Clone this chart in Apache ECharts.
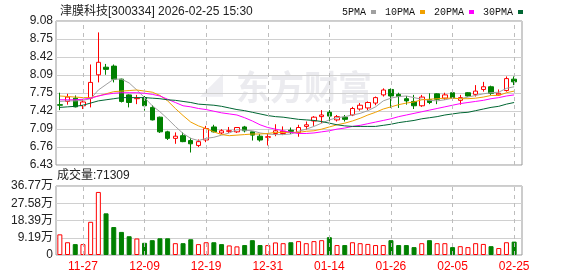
<!DOCTYPE html>
<html>
<head>
    <meta charset="utf-8">
    <title>津膜科技 K线</title>
    <script src="https://cdn.jsdelivr.net/npm/echarts@6/dist/echarts.min.js"></script>
    <style>
        html, body { margin: 0; padding: 0; background: #fff; }
        #main { width: 578px; height: 276px; }
    </style>
</head>
<body>
    <div id="main"></div>
    <script type="text/javascript">
        // 日期
        var dates = [
            '11-24', '11-25', '11-26', '11-27', '11-28', '12-01', '12-02', '12-03', '12-04', '12-05',
            '12-08', '12-09', '12-10', '12-11', '12-12', '12-15', '12-16', '12-17', '12-18', '12-19',
            '12-22', '12-23', '12-24', '12-25', '12-26', '12-29', '12-30', '12-31', '01-05', '01-06',
            '01-07', '01-08', '01-09', '01-12', '01-13', '01-14', '01-15', '01-16', '01-19', '01-20',
            '01-21', '01-22', '01-23', '01-26', '01-27', '01-28', '01-29', '01-30', '02-02', '02-03',
            '02-04', '02-05', '02-06', '02-09', '02-10', '02-11', '02-12', '02-13', '02-24', '02-25'
        ];
        var opens = [
            7.54, 7.60, 7.66, 7.52, 7.66, 8.09, 8.23, 8.25, 8.01, 7.72,
            7.65, 7.67, 7.49, 7.31, 7.04, 6.92, 6.97, 6.88, 6.79, 6.89,
            7.13, 7.02, 7.05, 7.04, 7.13, 7.04, 6.96, 6.94, 7.01, 7.01,
            7.07, 7.03, 7.14, 7.24, 7.32, 7.40, 7.26, 7.31, 7.35, 7.46,
            7.48, 7.57, 7.72, 7.82, 7.73, 7.65, 7.60, 7.52, 7.63, 7.74,
            7.66, 7.76, 7.62, 7.76, 7.73, 7.82, 7.87, 7.72, 7.80, 8.01
        ];
        var closes = [
            7.53, 7.68, 7.50, 7.59, 7.95, 8.32, 8.19, 8.01, 7.60, 7.58,
            7.66, 7.52, 7.26, 7.04, 6.92, 6.96, 6.86, 6.82, 6.86, 7.10,
            7.04, 7.06, 7.06, 7.12, 7.06, 6.98, 6.89, 6.95, 7.06, 7.05,
            7.05, 7.12, 7.17, 7.31, 7.35, 7.33, 7.32, 7.27, 7.47, 7.53,
            7.58, 7.67, 7.81, 7.70, 7.69, 7.61, 7.52, 7.68, 7.58, 7.64,
            7.72, 7.66, 7.67, 7.70, 7.79, 7.87, 7.75, 7.75, 8.02, 7.96
        ];
        var lows = [
            7.44, 7.54, 7.49, 7.46, 7.49, 7.95, 8.09, 7.95, 7.58, 7.49,
            7.55, 7.43, 7.25, 7.02, 6.89, 6.82, 6.85, 6.66, 6.76, 6.85,
            7.03, 7.00, 7.02, 7.02, 7.03, 6.88, 6.86, 6.79, 6.96, 6.98,
            7.00, 6.95, 7.08, 7.15, 7.20, 7.20, 7.23, 7.23, 7.33, 7.43,
            7.44, 7.53, 7.69, 7.48, 7.48, 7.54, 7.46, 7.50, 7.55, 7.55,
            7.63, 7.64, 7.54, 7.69, 7.69, 7.78, 7.72, 7.70, 7.78, 7.90
        ];
        var highs = [
            7.76, 7.74, 7.71, 7.64, 8.28, 8.87, 8.29, 8.28, 8.02, 7.73,
            7.72, 7.70, 7.53, 7.32, 7.06, 7.03, 7.03, 6.93, 6.90, 7.15,
            7.17, 7.09, 7.13, 7.12, 7.15, 7.04, 7.00, 7.01, 7.18, 7.14,
            7.12, 7.17, 7.23, 7.33, 7.44, 7.44, 7.35, 7.35, 7.50, 7.57,
            7.60, 7.69, 7.84, 7.84, 7.76, 7.70, 7.72, 7.72, 7.75, 7.75,
            7.76, 7.78, 7.72, 7.77, 7.90, 7.96, 7.89, 7.82, 8.06, 8.06
        ];
        // 均线
        var ma5 = [
            7.60, 7.61, 7.61, 7.62, 7.65, 7.81, 7.91, 8.01, 8.01, 7.94,
            7.81, 7.67, 7.52, 7.41, 7.28, 7.14, 7.01, 6.92, 6.88, 6.92,
            6.94, 6.98, 7.02, 7.08, 7.07, 7.06, 7.02, 7.00, 6.99, 6.99,
            7.00, 7.05, 7.09, 7.14, 7.20, 7.26, 7.30, 7.32, 7.35, 7.38,
            7.43, 7.50, 7.61, 7.66, 7.69, 7.70, 7.67, 7.64, 7.62, 7.61,
            7.63, 7.66, 7.65, 7.68, 7.71, 7.74, 7.76, 7.77, 7.84, 7.87
        ];
        var ma10 = [
            7.70, 7.69, 7.68, 7.67, 7.67, 7.70, 7.74, 7.78, 7.79, 7.80,
            7.81, 7.79, 7.77, 7.71, 7.61, 7.47, 7.34, 7.22, 7.15, 7.10,
            7.04, 6.99, 6.97, 6.98, 6.99, 7.00, 7.00, 7.01, 7.03, 7.03,
            7.03, 7.03, 7.05, 7.06, 7.09, 7.13, 7.17, 7.20, 7.24, 7.29,
            7.35, 7.40, 7.46, 7.50, 7.54, 7.57, 7.59, 7.63, 7.64, 7.65,
            7.66, 7.66, 7.65, 7.65, 7.66, 7.68, 7.71, 7.71, 7.76, 7.79
        ];
        var ma20 = [
            7.63, 7.63, 7.63, 7.64, 7.66, 7.70, 7.73, 7.75, 7.76, 7.76,
            7.76, 7.75, 7.73, 7.70, 7.64, 7.58, 7.52, 7.50, 7.47, 7.45,
            7.42, 7.39, 7.37, 7.35, 7.30, 7.24, 7.17, 7.12, 7.09, 7.06,
            7.03, 7.01, 7.01, 7.02, 7.04, 7.06, 7.09, 7.11, 7.14, 7.16,
            7.19, 7.22, 7.25, 7.28, 7.32, 7.35, 7.38, 7.41, 7.44, 7.47,
            7.50, 7.53, 7.56, 7.58, 7.60, 7.62, 7.65, 7.67, 7.70, 7.72
        ];
        var ma30 = [
            7.49, 7.50, 7.51, 7.53, 7.57, 7.61, 7.63, 7.65, 7.67, 7.67,
            7.67, 7.67, 7.66, 7.65, 7.63, 7.62, 7.60, 7.58, 7.55, 7.54,
            7.53, 7.51, 7.48, 7.45, 7.43, 7.40, 7.37, 7.34, 7.32, 7.31,
            7.29, 7.27, 7.26, 7.25, 7.23, 7.20, 7.17, 7.15, 7.14, 7.14,
            7.14, 7.14, 7.16, 7.18, 7.21, 7.23, 7.25, 7.28, 7.30, 7.32,
            7.35, 7.37, 7.39, 7.40, 7.43, 7.46, 7.49, 7.51, 7.55, 7.58
        ];
        // 成交量（手）和涨跌
        var volumes = [
            110000, 68000, 58000, 58000, 177000, 336000, 222000, 149000, 123000, 100000,
            88000, 65000, 79000, 89000, 89000, 63000, 63000, 84000, 58000, 68000,
            68000, 58000, 51000, 46000, 53000, 79000, 53000, 53000, 67000, 63000,
            68000, 74000, 63000, 74000, 79000, 95000, 53000, 53000, 68000, 63000,
            59000, 53000, 53000, 79000, 53000, 53000, 42000, 63000, 79000, 63000,
            63000, 42000, 47000, 42000, 63000, 59000, 47000, 37000, 68000, 71309
        ];
        var volUp = 'RRGRRRGGGGRGGGGRGGRRGGRRGGGRRRGRRRRGRGRRRRRGGGGRGRRGRRRRGRRG';
        var priceTicks = ['6.43', '6.76', '7.09', '7.42', '7.75', '8.09', '8.42', '8.75', '9.08'];
        var volTicks = ['0', '9.19万', '18.39万', '27.58万', '36.77万'];

        var UP = '#ff0000';
        var DOWN = '#008000';
        var priceMin = 6.43, priceMax = 9.08, priceStep = (9.08 - 6.43) / 8;
        var volMax = 367700, volStep = volMax / 4;

        var kData = dates.map(function (d, i) {
            return [opens[i], closes[i], lows[i], highs[i]];
        });
        var volData = volumes.map(function (v, i) {
            var up = volUp.charAt(i) === 'R';
            return {
                value: v,
                itemStyle: up ? { color: '#fff', borderColor: UP, borderWidth: 1 }
                              : { color: DOWN, borderColor: DOWN, borderWidth: 1 }
            };
        });

        function labelTick(i) { return (i - 3) % 8 === 0; }

        // 竖向虚线：与日期标签对齐
        function dashLines() {
            return {
                silent: true,
                symbol: ['none', 'none'],
                label: { show: false },
                emphasis: { disabled: true },
                lineStyle: { color: '#bdbdbd', type: [4, 4], width: 1, opacity: 1 },
                data: dates.filter(function (d, i) { return labelTick(i); })
                           .map(function (d) { return { xAxis: d }; })
            };
        }

        var dom = document.getElementById('main');
        var myChart = echarts.init(dom, null, { renderer: 'canvas' });

        var font = '"Liberation Sans", Arial, "Noto Sans CJK SC", sans-serif';

        var option = {
            animation: false,
            backgroundColor: '#fff',
            textStyle: { fontFamily: font },
            title: {
                text: '津膜科技[300334] 2026-02-25 15:30',
                left: 55,
                top: 1,
                textStyle: { fontSize: 12, fontWeight: 'normal', color: '#222', fontFamily: font }
            },
            legend: {
                left: 337,
                top: 2,
                icon: 'rect',
                itemWidth: 5,
                itemHeight: 4,
                itemGap: 9,
                align: 'right',
                textStyle: { fontSize: 10, color: '#111', fontFamily: '"Liberation Mono", monospace' },
                data: ['5PMA', '10PMA', '20PMA', '30PMA']
            },
            graphic: [{
                type: 'text',
                left: 236,
                top: 70,
                z: -1,
                silent: true,
                style: {
                    text: '东方财富',
                    font: 'bold 34px "Noto Sans CJK SC"',
                    fill: '#ebebef'
                }
            }, {
                type: 'text',
                left: 200,
                top: 70,
                z: -1,
                silent: true,
                style: {
                    text: '◢',
                    font: 'bold 30px "DejaVu Sans"',
                    fill: '#eeeef2'
                }
            }, {
                type: 'text',
                left: 57,
                top: 170,
                style: {
                    text: '成交量:' + volumes[volumes.length - 1],
                    font: '12px "Liberation Sans", "Noto Sans CJK SC", sans-serif',
                    fill: '#222'
                }
            }],
            grid: [
                { left: 56, top: 21, width: 462, height: 144 },
                { left: 56, top: 21, width: 466, height: 144, show: true, borderColor: '#999', borderWidth: 1, backgroundColor: 'transparent' },
                { left: 56, top: 186, width: 462, height: 69 },
                { left: 56, top: 186, width: 466, height: 69, show: true, borderColor: '#999', borderWidth: 1, backgroundColor: 'transparent' }
            ],
            xAxis: [
                {
                    type: 'category', gridIndex: 0, data: dates, boundaryGap: true,
                    axisLine: { show: false }, axisTick: { show: false }, axisLabel: { show: false },
                    splitLine: { show: false }
                },
                { type: 'value', gridIndex: 1, show: false, min: 0, max: 1 },
                {
                    type: 'category', gridIndex: 2, data: dates, boundaryGap: true,
                    axisLine: { show: false }, axisTick: { show: false },
                    axisLabel: {
                        show: true, interval: labelTick, color: UP, fontSize: 12, margin: 6,
                        fontFamily: font
                    },
                    splitLine: { show: false }
                },
                { type: 'value', gridIndex: 3, show: false, min: 0, max: 1 }
            ],
            yAxis: [
                { type: 'value', gridIndex: 0, min: priceMin, max: priceMax, show: false, splitLine: { show: false } },
                {
                    type: 'value', gridIndex: 1, min: priceMin, max: priceMax, interval: priceStep,
                    axisLine: { show: false }, axisTick: { show: false },
                    axisLabel: {
                        color: '#222', fontSize: 12, margin: 3, fontFamily: font,
                        formatter: function (v) { return priceTicks[Math.round((v - priceMin) / priceStep)]; }
                    },
                    splitLine: { lineStyle: { color: '#d0d0d0', width: 1 } }
                },
                { type: 'value', gridIndex: 2, min: 0, max: volMax, show: false, splitLine: { show: false } },
                {
                    type: 'value', gridIndex: 3, min: 0, max: volMax, interval: volStep,
                    axisLine: { show: false }, axisTick: { show: false },
                    axisLabel: {
                        color: '#222', fontSize: 12, margin: 3, fontFamily: font,
                        formatter: function (v) { return volTicks[Math.round(v / volStep)]; }
                    },
                    splitLine: { lineStyle: { color: '#d0d0d0', width: 1 } }
                }
            ],
            series: [
                {
                    name: 'K',
                    type: 'candlestick',
                    xAxisIndex: 0, yAxisIndex: 0,
                    barWidth: 5,
                    data: kData,
                    itemStyle: {
                        color: '#fff', color0: DOWN,
                        borderColor: UP, borderColor0: DOWN, borderWidth: 1
                    },
                    markLine: dashLines()
                },
                {
                    name: '5PMA', type: 'line', xAxisIndex: 0, yAxisIndex: 0, data: ma5,
                    showSymbol: false, color: '#a0a0a0',
                    lineStyle: { width: 1, color: '#a0a0a0' }
                },
                {
                    name: '10PMA', type: 'line', xAxisIndex: 0, yAxisIndex: 0, data: ma10,
                    showSymbol: false, color: '#f0a000',
                    lineStyle: { width: 1, color: '#f0a000' }
                },
                {
                    name: '20PMA', type: 'line', xAxisIndex: 0, yAxisIndex: 0, data: ma20,
                    showSymbol: false, color: '#ff00ff',
                    lineStyle: { width: 1, color: '#ff00ff' }
                },
                {
                    name: '30PMA', type: 'line', xAxisIndex: 0, yAxisIndex: 0, data: ma30,
                    showSymbol: false, color: '#006633',
                    lineStyle: { width: 1, color: '#006633' }
                },
                {
                    name: '成交量',
                    type: 'bar',
                    xAxisIndex: 2, yAxisIndex: 2,
                    barWidth: 5,
                    data: volData,
                    markLine: dashLines()
                }
            ]
        };

        if (option && typeof option === 'object') {
            myChart.setOption(option, true);
        }
    </script>
</body>
</html>
